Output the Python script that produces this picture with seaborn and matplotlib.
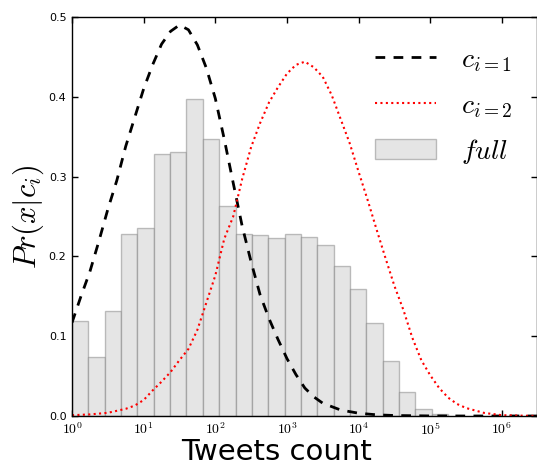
import numpy as np
import pandas as pd
import matplotlib
matplotlib.use("Agg")
import matplotlib.pyplot as plt
import seaborn as sns
from matplotlib.ticker import FuncFormatter, FormatStrFormatter, NullLocator

# histogram of tweets count (density per decade), bins in log10 space
bin_edges_log = [0.0, 0.2283, 0.4565, 0.6848, 0.913, 1.1413, 1.3696, 1.5978, 1.8261,
                 2.0543, 2.2826, 2.5109, 2.7391, 2.9674, 3.1957, 3.4239, 3.6522,
                 3.8804, 4.1087, 4.337, 4.5652, 4.7935, 5.0217, 5.25]
full_density = [0.119, 0.0735, 0.132, 0.228, 0.236, 0.328, 0.331, 0.397, 0.3475,
                0.2635, 0.2285, 0.2265, 0.2227, 0.2277, 0.2247, 0.2143, 0.188,
                0.1596, 0.116, 0.0693, 0.0305, 0.0088, 0.0025]

c1_log_x = [0.0, 0.125, 0.25, 0.375, 0.5, 0.625, 0.75, 0.875, 1.0, 1.125, 1.25,
            1.375, 1.5, 1.625, 1.75, 1.875, 2.0, 2.125, 2.25, 2.375, 2.5, 2.625,
            2.75, 2.875, 3.0, 3.125, 3.25, 3.375, 3.5, 3.75, 4.0, 4.25, 4.5, 5.0,
            5.5, 6.0, 6.5]
c1_pr = [0.117, 0.150, 0.181, 0.219, 0.259, 0.295, 0.338, 0.374, 0.410, 0.440,
         0.466, 0.482, 0.490, 0.484, 0.465, 0.436, 0.398, 0.347, 0.292, 0.238,
         0.193, 0.152, 0.122, 0.096, 0.072, 0.052, 0.035, 0.024, 0.016, 0.0075,
         0.0035, 0.0015, 0.0006, 0.0001, 0.0, 0.0, 0.0]

c2_log_x = [0.0, 0.25, 0.5, 0.75, 0.875, 1.0, 1.125, 1.25, 1.375, 1.5, 1.625,
            1.75, 1.875, 2.0, 2.125, 2.25, 2.375, 2.5, 2.625, 2.75, 2.875, 3.0,
            3.125, 3.25, 3.375, 3.5, 3.625, 3.75, 3.875, 4.0, 4.125, 4.25, 4.375,
            4.5, 4.625, 4.75, 4.875, 5.0, 5.125, 5.25, 5.375, 5.5, 5.75, 6.0, 6.5]
c2_pr = [0.001, 0.002, 0.004, 0.009, 0.013, 0.020, 0.032, 0.043, 0.055, 0.070,
         0.084, 0.108, 0.142, 0.176, 0.222, 0.250, 0.297, 0.337, 0.367, 0.393,
         0.412, 0.429, 0.440, 0.444, 0.437, 0.425, 0.402, 0.372, 0.342, 0.306,
         0.271, 0.234, 0.198, 0.163, 0.133, 0.098, 0.070, 0.051, 0.035, 0.023,
         0.015, 0.010, 0.0039, 0.001, 0.0]

x_ticks = [1e0, 1e1, 1e2, 1e3, 1e4, 1e5, 1e6]
y_ticks = [0.0, 0.1, 0.2, 0.3, 0.4, 0.5]

sns.set_style("ticks")
plt.rcParams.update({
    "font.family": ["DejaVu Sans"],
    "mathtext.fontset": "cm",
    "text.color": "black",
    "axes.labelcolor": "black",
    "axes.edgecolor": "black",
    "axes.linewidth": 1.0,
    "xtick.direction": "in",
    "ytick.direction": "in",
    "xtick.top": True,
    "ytick.right": True,
    "xtick.color": "black",
    "ytick.color": "black",
})

fig = plt.figure(figsize=(5.37, 4.67), dpi=100)
ax = fig.add_axes([72 / 537, 1 - 416 / 467, 465 / 537, 399 / 467])

edges = np.array(bin_edges_log)
hist_df = pd.DataFrame({
    "tweets": 10 ** ((edges[:-1] + edges[1:]) / 2),
    "density": full_density,
})
# log_scale=True makes seaborn bin in log10 space, so the edges are given as log10
sns.histplot(data=hist_df, x="tweets", weights="density", bins=list(edges),
             log_scale=True, stat="count", color="#e5e5e5",
             edgecolor=(0.4, 0.4, 0.4, 0.4), linewidth=1.0, alpha=1.0, ax=ax)

sns.lineplot(x=10 ** np.array(c1_log_x), y=c1_pr, color="black",
             linewidth=2.0, ax=ax)
sns.lineplot(x=10 ** np.array(c2_log_x), y=c2_pr, color="red",
             linewidth=1.5, ax=ax)
lines = ax.get_lines()
lines[0].set_dashes([3.5, 3.0])
lines[1].set_dashes([1.0, 1.6])

ax.set_xscale("log")
ax.set_xlim(1, 10 ** 6.49)
ax.set_ylim(0, 0.5)
ax.set_xticks(x_ticks)
ax.set_yticks(y_ticks)
ax.yaxis.set_major_formatter(FormatStrFormatter("%.1f"))
ax.xaxis.set_major_formatter(
    FuncFormatter(lambda v, p: "$10^{%d}$" % int(round(np.log10(v)))))
ax.xaxis.set_minor_locator(NullLocator())
ax.tick_params(axis="both", which="major", length=4, width=1, pad=4)
ax.tick_params(axis="y", labelsize=8)
ax.tick_params(axis="x", labelsize=10)
for s in ax.spines.values():
    s.set_visible(True)

ax.set_xlabel("Tweets count", fontsize=21)
ax.xaxis.set_label_coords(0.439, -0.055)
ax.set_ylabel("$Pr(x|c_i)$", fontsize=22)
ax.yaxis.set_label_coords(-0.055, 0.5)

handles = [lines[0], lines[1], ax.patches[0]]
leg = ax.legend(handles, ["$c_{i=1}$", "$c_{i=2}$", "$full$"], loc="upper left",
                bbox_to_anchor=(0.628, 0.958), frameon=False, fontsize=20,
                handlelength=2.2, handletextpad=0.9, labelspacing=0.62,
                borderaxespad=0)

fig.savefig("out.png", dpi=100)
